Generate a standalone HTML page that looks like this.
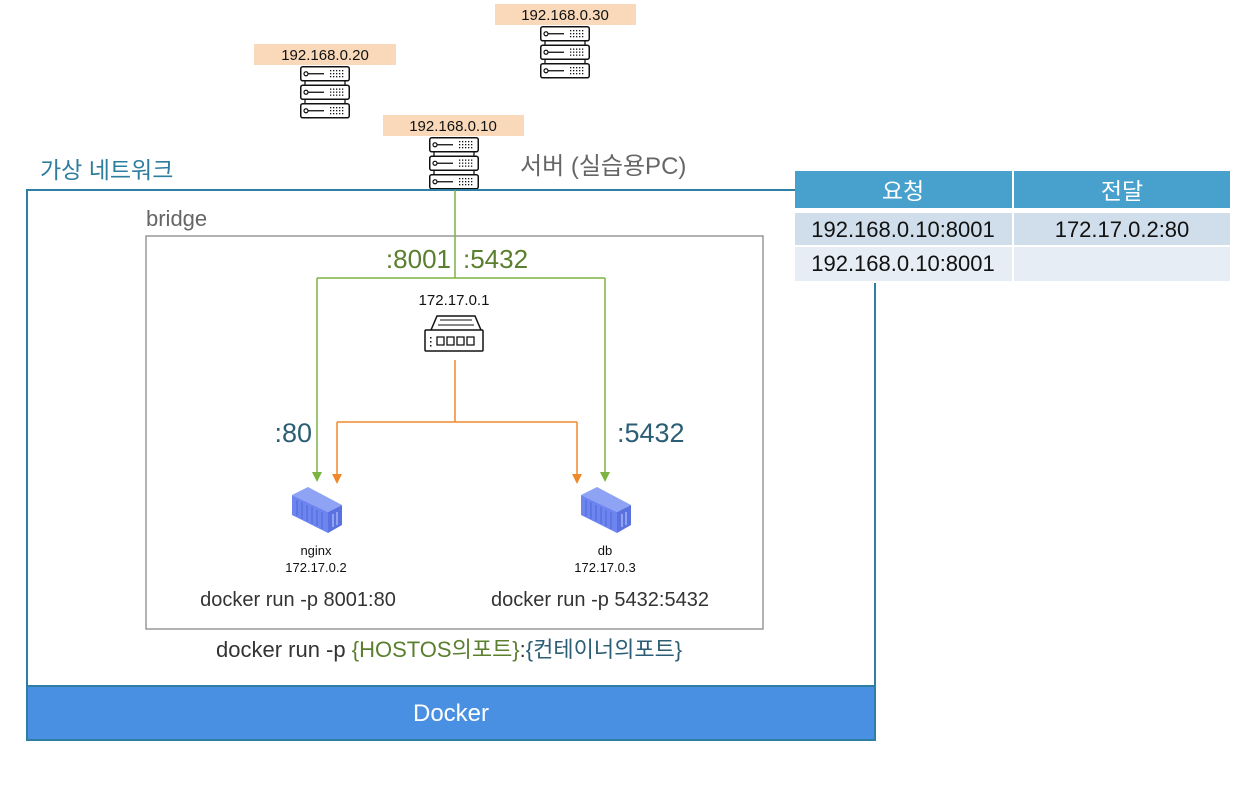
<!DOCTYPE html>
<html><head><meta charset="utf-8"><style>
body{margin:0;background:#fff;}
svg text{font-family:"Liberation Sans","Noto Sans CJK KR",sans-serif;}
</style></head><body>
<svg width="1256" height="786" viewBox="0 0 1256 786" xmlns="http://www.w3.org/2000/svg">
<defs>
<g id="srv">
  <g id="unit"><rect x="0.75" y="0.75" width="48.5" height="14" rx="2" fill="#fff" stroke="#111" stroke-width="1.5"/>
  <circle cx="6" cy="7.75" r="2" fill="none" stroke="#111" stroke-width="1.2"/><line x1="8" y1="7.75" x2="24" y2="7.75" stroke="#111" stroke-width="1.3"/>
  <g fill="#111"><rect x="30" y="4" width="1.3" height="1.3"/><rect x="33" y="4" width="1.3" height="1.3"/><rect x="36" y="4" width="1.3" height="1.3"/><rect x="39" y="4" width="1.3" height="1.3"/><rect x="42" y="4" width="1.3" height="1.3"/>
  <rect x="30" y="7" width="1.3" height="1.3"/><rect x="33" y="7" width="1.3" height="1.3"/><rect x="36" y="7" width="1.3" height="1.3"/><rect x="39" y="7" width="1.3" height="1.3"/><rect x="42" y="7" width="1.3" height="1.3"/>
  <rect x="30" y="10" width="1.3" height="1.3"/><rect x="33" y="10" width="1.3" height="1.3"/><rect x="36" y="10" width="1.3" height="1.3"/><rect x="39" y="10" width="1.3" height="1.3"/><rect x="42" y="10" width="1.3" height="1.3"/></g></g>
  <use href="#unit" y="18.5"/><use href="#unit" y="37"/>
  <g stroke="#111" stroke-width="1.3"><line x1="5" y1="15" x2="5" y2="19"/><line x1="45" y1="15" x2="45" y2="19"/><line x1="5" y1="33.5" x2="5" y2="37.5"/><line x1="45" y1="33.5" x2="45" y2="37.5"/></g>
</g>
<g id="cont">
  <polygon points="0,8 16,0 50,18 36,25" fill="#8fa3f5"/>
  <polygon points="0,8 36,25 36,46 0,28" fill="#6d85ee"/>
  <polygon points="36,25 50,18 50,38 36,46" fill="#5a72e0"/>
  <g stroke="#5068d8" stroke-width="1"><line x1="5" y1="13" x2="5" y2="29"/><line x1="10" y1="15" x2="10" y2="32"/><line x1="15" y1="18" x2="15" y2="34"/><line x1="20" y1="20" x2="20" y2="37"/><line x1="25" y1="23" x2="25" y2="39"/><line x1="30" y1="25" x2="30" y2="42"/></g>
  <g stroke="#c8d2ff" stroke-width="1"><line x1="41" y1="27" x2="41" y2="40"/><line x1="45" y1="25" x2="45" y2="38"/></g>
</g>
</defs>

<!-- servers -->
<rect x="495" y="4" width="141" height="21" fill="#fad9bb"/>
<text x="565" y="20" font-size="15" text-anchor="middle" fill="#111">192.168.0.30</text>
<use href="#srv" x="540" y="26"/>
<rect x="254" y="44" width="142" height="21" fill="#fad9bb"/>
<text x="325" y="60" font-size="15" text-anchor="middle" fill="#111">192.168.0.20</text>
<use href="#srv" x="300" y="66"/>
<rect x="383" y="115" width="141" height="21" fill="#fad9bb"/>
<text x="453" y="131" font-size="15" text-anchor="middle" fill="#111">192.168.0.10</text>
<use href="#srv" x="429" y="137"/>
<text x="520" y="174" font-size="24" fill="#666">서버 (실습용PC)</text>

<!-- outer network -->
<text x="40" y="178" font-size="23" fill="#2d7d9e">가상 네트워크</text>
<path d="M795,190 L27,190 L27,740 L875,740 L875,283" fill="none" stroke="#2f7ea3" stroke-width="2"/>
<rect x="28" y="686" width="846" height="53" fill="#4a90e2"/>
<line x1="27" y1="686" x2="875" y2="686" stroke="#2f7ea3" stroke-width="2"/>
<text x="451" y="721" font-size="24" fill="#fff" text-anchor="middle">Docker</text>

<!-- bridge -->
<text x="146" y="226" font-size="22" fill="#666">bridge</text>
<rect x="146" y="236" width="617" height="393" fill="none" stroke="#888" stroke-width="1.3"/>

<!-- green lines -->
<path d="M455,190 L455,278 M317,278 L605,278 M317,278 L317,474 M605,278 L605,474" fill="none" stroke="#7cb342" stroke-width="1.5"/>
<path d="M312,472 L322,472 L317,482 z M600,472 L610,472 L605,482 z" fill="#7cb342"/>
<text x="451" y="268" font-size="26" fill="#5a7f2e" text-anchor="end">:8001</text>
<text x="463" y="268" font-size="26" fill="#5a7f2e">:5432</text>

<!-- switch -->
<text x="454" y="305" font-size="15" fill="#111" text-anchor="middle">172.17.0.1</text>
<g stroke="#111" stroke-width="1.5" fill="#fff">
<path d="M431,330 L437,316 L475,316 L481,330"/>
<rect x="425" y="330" width="58" height="21" rx="1"/>
</g>
<g stroke="#111" stroke-width="1" fill="none"><line x1="440" y1="320" x2="472" y2="320"/><line x1="438" y1="325" x2="474" y2="325"/></g>
<g fill="none" stroke="#111" stroke-width="1.3">
<path d="M437,337 h7 v8 h-7 z"/><path d="M447,337 h7 v8 h-7 z"/><path d="M457,337 h7 v8 h-7 z"/><path d="M467,337 h7 v8 h-7 z"/>
</g>
<g fill="#111"><rect x="430" y="337" width="1.5" height="1.5"/><rect x="430" y="341" width="1.5" height="1.5"/><rect x="430" y="345" width="1.5" height="1.5"/></g>

<!-- orange lines -->
<path d="M455,360 L455,422 M337,422 L577,422 M337,422 L337,476 M577,422 L577,476" fill="none" stroke="#ef8a2c" stroke-width="1.5"/>
<path d="M332,474 L342,474 L337,484 z M572,474 L582,474 L577,484 z" fill="#ef8a2c"/>

<text x="312" y="442" font-size="27" fill="#2b5e75" text-anchor="end">:80</text>
<text x="617" y="442" font-size="27" fill="#2b5e75">:5432</text>

<!-- containers -->
<use href="#cont" x="292" y="487"/>
<use href="#cont" x="581" y="487"/>
<text x="316" y="555" font-size="13" fill="#111" text-anchor="middle">nginx</text>
<text x="316" y="572" font-size="13" fill="#111" text-anchor="middle">172.17.0.2</text>
<text x="605" y="555" font-size="13" fill="#111" text-anchor="middle">db</text>
<text x="605" y="572" font-size="13" fill="#111" text-anchor="middle">172.17.0.3</text>
<text x="298" y="606" font-size="20" fill="#333" text-anchor="middle">docker run -p 8001:80</text>
<text x="600" y="606" font-size="20" fill="#333" text-anchor="middle">docker run -p 5432:5432</text>
<text x="216" y="657" font-size="22" fill="#333">docker run -p <tspan fill="#5a7f2e">{HOSTOS의포트}</tspan>:<tspan fill="#2b5e75">{컨테이너의포트}</tspan></text>

<!-- table -->
<rect x="795" y="171" width="217" height="37" fill="#47a1cc"/>
<rect x="1014" y="171" width="216" height="37" fill="#47a1cc"/>
<rect x="795" y="213" width="217" height="32" fill="#cfdeea"/>
<rect x="1014" y="213" width="216" height="32" fill="#cfdeea"/>
<rect x="795" y="247" width="217" height="34" fill="#e6edf4"/>
<rect x="1014" y="247" width="216" height="34" fill="#e6edf4"/>
<text x="903" y="199" font-size="23" fill="#fff" text-anchor="middle">요청</text>
<text x="1122" y="199" font-size="23" fill="#fff" text-anchor="middle">전달</text>
<text x="903" y="237" font-size="22" fill="#111" text-anchor="middle">192.168.0.10:8001</text>
<text x="1122" y="237" font-size="22" fill="#111" text-anchor="middle">172.17.0.2:80</text>
<text x="903" y="271" font-size="22" fill="#111" text-anchor="middle">192.168.0.10:8001</text>
</svg>
</body></html>
